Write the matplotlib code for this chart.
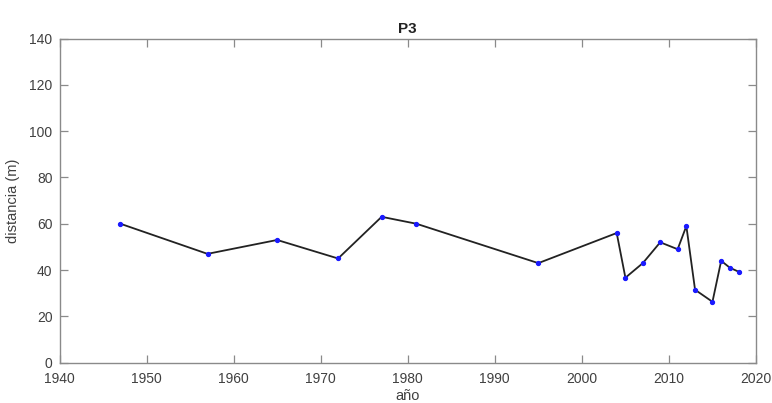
import matplotlib
matplotlib.use("Agg")
import matplotlib.pyplot as plt

years = [1947, 1957, 1965, 1972, 1977, 1981, 1995, 2004, 2005, 2007, 2009,
         2011, 2012, 2013, 2015, 2016, 2017, 2018]
distancia = [60, 47, 53, 45, 63, 60, 43, 56, 36.7, 43, 52,
             49, 59, 31.5, 26.3, 44, 41, 39.3]
xticks = [1940, 1950, 1960, 1970, 1980, 1990, 2000, 2010, 2020]
yticks = [0, 20, 40, 60, 80, 100, 120, 140]

plt.rcParams['font.family'] = ['Liberation Sans', 'DejaVu Sans']

fig = plt.figure(figsize=(7.72, 4.03), dpi=100)
ax = fig.add_axes([59.5/772, 1-362.7/403, (756-59.5)/772, (362.7-38.5)/403])

ax.plot(years, distancia, color='#222222', lw=1.3, zorder=2)
ax.plot(years, distancia, ls='none', marker='o', ms=2.8, color='#1a1aff',
        mec='#1a1aff', zorder=3)

ax.set_xlim(1940, 2020)
ax.set_ylim(0, 140)
ax.set_xticks(xticks)
ax.set_yticks(yticks)

axcol = '#8a8a8a'
for s in ax.spines.values():
    s.set_color(axcol)
    s.set_linewidth(1.0)
ax.tick_params(direction='in', length=6, width=0.9, color=axcol,
               top=True, right=True, labelsize=10, labelcolor='#404040')
ax.tick_params(axis='x', pad=7)
ax.tick_params(axis='y', pad=5)

ax.set_title('P3', fontsize=11, fontweight='bold', color='#222222', pad=4)
ax.set_xlabel('año', fontsize=10.5, color='#404040', labelpad=2)
ax.set_ylabel('distancia (m)', fontsize=10.5, color='#404040', labelpad=7)

fig.savefig('out.png', dpi=100)
